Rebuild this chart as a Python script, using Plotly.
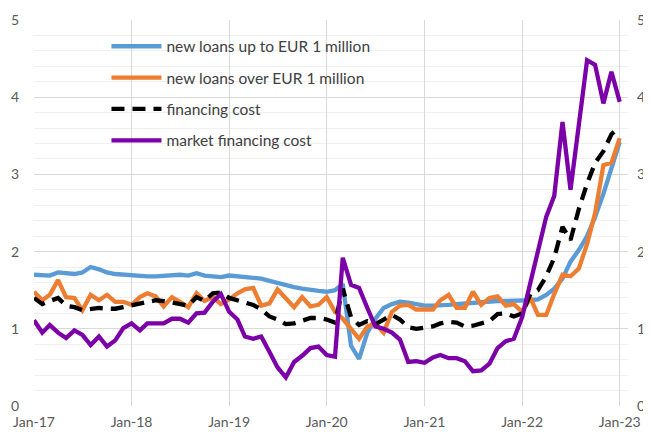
import plotly.graph_objects as go
import pandas as pd

months = pd.date_range("2017-01-01", "2023-01-01", freq="MS")

small_loans = [1.70, 1.69, 1.69, 1.73, 1.72, 1.71, 1.73, 1.80, 1.77, 1.73, 1.71, 1.70,
               1.69, 1.69, 1.68, 1.68, 1.69, 1.70, 1.70, 1.69, 1.72, 1.69, 1.68, 1.67,
               1.69, 1.68, 1.68, 1.67, 1.65, 1.62, 1.59, 1.56, 1.54, 1.52, 1.50, 1.49,
               1.48, 1.50, 1.58, 0.78, 0.61, 0.95, 1.13, 1.27, 1.32, 1.35, 1.34, 1.32,
               1.30, 1.30, 1.30, 1.31, 1.32, 1.33, 1.33, 1.34, 1.35, 1.36, 1.36, 1.36,
               1.36, 1.37, 1.38, 1.44, 1.52, 1.65, 1.87, 2.02, 2.20, 2.45, 2.75, 3.10,
               3.42]

large_loans = [1.48, 1.37, 1.44, 1.63, 1.41, 1.40, 1.24, 1.44, 1.37, 1.44, 1.35, 1.35,
               1.31, 1.41, 1.46, 1.42, 1.29, 1.41, 1.35, 1.28, 1.46, 1.36, 1.41, 1.32,
               1.38, 1.46, 1.51, 1.53, 1.30, 1.33, 1.51, 1.40, 1.28, 1.41, 1.29, 1.31,
               1.41, 1.22, 1.13, 1.00, 0.87, 1.03, 1.07, 0.95, 1.22, 1.30, 1.31, 1.25,
               1.25, 1.25, 1.37, 1.44, 1.27, 1.27, 1.48, 1.31, 1.40, 1.42, 1.30, 1.32,
               1.22, 1.40, 1.18, 1.18, 1.45, 1.70, 1.68, 1.78, 2.10, 2.50, 3.12, 3.15,
               3.47]

financing_cost = [1.40, 1.32, 1.36, 1.40, 1.30, 1.28, 1.24, 1.26, 1.27, 1.26, 1.26, 1.28,
                  1.30, 1.33, 1.35, 1.37, 1.36, 1.34, 1.32, 1.30, 1.41, 1.36, 1.46, 1.47,
                  1.40, 1.37, 1.34, 1.31, 1.25, 1.16, 1.12, 1.06, 1.07, 1.11, 1.14, 1.14,
                  1.12, 1.08, 1.52, 1.15, 1.05, 1.10, 1.06, 1.12, 1.18, 1.12, 1.02, 1.00,
                  1.01, 1.03, 1.07, 1.09, 1.08, 1.03, 1.04, 1.07, 1.10, 1.19, 1.20, 1.16,
                  1.20, 1.45, 1.50, 1.68, 1.92, 2.32, 2.15, 2.55, 2.88, 3.15, 3.30, 3.52,
                  3.62]

market_cost = [1.11, 0.95, 1.05, 0.95, 0.88, 0.98, 0.92, 0.79, 0.90, 0.77, 0.85, 1.01,
               1.07, 0.98, 1.07, 1.07, 1.07, 1.13, 1.13, 1.08, 1.20, 1.21, 1.35, 1.45,
               1.22, 1.12, 0.90, 0.87, 0.90, 0.70, 0.50, 0.37, 0.57, 0.65, 0.75, 0.77,
               0.66, 0.64, 1.92, 1.57, 1.53, 1.27, 1.03, 1.00, 0.95, 0.86, 0.57, 0.58,
               0.56, 0.63, 0.66, 0.62, 0.62, 0.58, 0.45, 0.46, 0.55, 0.75, 0.84, 0.87,
               1.15, 1.60, 2.00, 2.45, 2.72, 3.68, 2.80, 3.65, 4.48, 4.42, 3.92, 4.33,
               3.94]

names = ["new loans up to EUR 1 million", "new loans over EUR 1 million",
         "financing cost", "market financing cost"]
colors = ["#5B9BD5", "#ED7D31", "#000000", "#7B00A8"]
dashes = ["solid", "solid", "13px,8px", "solid"]
series = [small_loans, large_loans, financing_cost, market_cost]

fig = go.Figure()
for i, (nm, ys, c, d) in enumerate(zip(names, series, colors, dashes)):
    fig.add_trace(go.Scatter(x=months, y=ys, mode="lines", name=nm,
                             legendgroup=f"g{i}",
                             line=dict(color=c, width=4.3, dash=d)))
# invisible trace for the right-hand axis
fig.add_trace(go.Scatter(x=[months[0]], y=[0], yaxis="y2", mode="lines",
                         showlegend=False, hoverinfo="skip",
                         line=dict(color="rgba(0,0,0,0)")))

tickfont = dict(family="Lato, Noto Sans, sans-serif", size=14, color="#595959")
year_ticks = pd.date_range("2017-01-01", "2023-01-01", freq="YS")

# the page body adds an 8px offset, so the figure is sized to fit the window
fig.update_layout(
    width=643, height=426,
    margin=dict(l=26, r=23, t=12, b=28),
    paper_bgcolor="white", plot_bgcolor="white",
    font=dict(family="Lato, Noto Sans, sans-serif", size=14, color="#404040"),
    showlegend=True,
    legend=dict(x=0.122, y=0.975, xanchor="left", yanchor="top",
                bgcolor="rgba(0,0,0,0)", tracegroupgap=8.2, itemwidth=50,
                font=dict(family="Lato, Noto Sans, sans-serif", size=15.5, color="#404040")),
    xaxis=dict(range=["2017-01-01", "2023-02-01"], tickvals=list(year_ticks),
               tickformat="%b-%y", showgrid=True, gridcolor="#D9D9D9", gridwidth=1,
               showline=False, zeroline=False, ticks="", tickfont=tickfont,
               ticklabelstandoff=6, automargin=False),
    yaxis=dict(range=[0, 5], dtick=1, showgrid=True, gridcolor="#D9D9D9", gridwidth=1,
               zeroline=False, showline=False, ticks="", tickfont=tickfont,
               ticklabelstandoff=14, automargin=False,
               minor=dict(dtick=0.2, showgrid=True, gridcolor="#F0F0F0", gridwidth=1)),
    yaxis2=dict(range=[0, 5], dtick=1, overlaying="y", side="right", showgrid=False,
                zeroline=False, showline=False, ticks="", tickfont=tickfont,
                ticklabelstandoff=8, automargin=False),
)

fig.write_html("out.html")
